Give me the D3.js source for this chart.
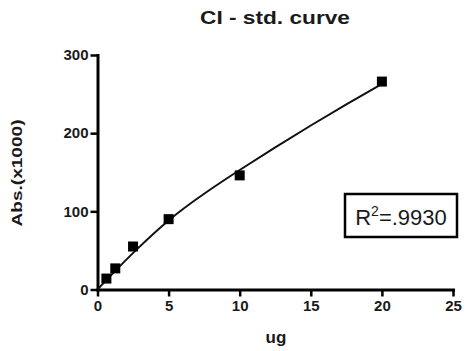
<!DOCTYPE html>
<html lang="en">
<head>
    <meta charset="UTF-8">
    <title>CI - std. curve</title>
    <script src="https://cdn.jsdelivr.net/npm/d3@7"></script>
    <style>
        body { margin: 0; background: #fff; }
        text { font-family: "Liberation Sans", Arial, sans-serif; fill: #1a1a1a; }
    </style>
</head>
<body>
<div id="chart"></div>
<script>
    // measured points (ug vs Abs x1000)
    var ugValues = [0.625, 1.25, 2.5, 5, 10, 20];
    var absValues = [14, 27, 55, 90, 146, 266];

    // fitted curve
    var fitX = [0, 1.25, 2.5, 5, 7.5, 10, 12.5, 15, 17.5, 20];
    var fitY = [0, 24, 47, 90, 123, 153, 182, 210, 237, 263];

    var xTicks = [0, 5, 10, 15, 20, 25];
    var yTicks = [0, 100, 200, 300];
    var rSquared = ".9930";

    var width = 465, height = 351;

    var svg = d3.select("#chart").append("svg")
            .attr("width", width)
            .attr("height", height);

    var x = d3.scaleLinear().domain([0, 25]).range([97.5, 453]);
    var y = d3.scaleLinear().domain([0, 300]).range([289.5, 55]);

    // title
    svg.append("text")
            .attr("x", 275)
            .attr("y", 24)
            .attr("text-anchor", "middle")
            .attr("textLength", 150)
            .attr("lengthAdjust", "spacingAndGlyphs")
            .style("font-size", "19px")
            .style("font-weight", "bold")
            .text("CI - std. curve");

    // axes
    var xAxis = svg.append("g")
            .attr("transform", "translate(0," + y(0) + ")")
            .call(d3.axisBottom(x).tickValues(xTicks).tickSize(7).tickSizeOuter(0).tickPadding(4));
    var yAxis = svg.append("g")
            .attr("transform", "translate(" + x(0) + ",0)")
            .call(d3.axisLeft(y).tickValues(yTicks).tickSize(7).tickSizeOuter(0).tickPadding(2));

    [xAxis, yAxis].forEach(function(ax){
        ax.select(".domain").attr("stroke", "#000").attr("stroke-width", 3).attr("stroke-linecap", "square");
        ax.selectAll(".tick line").attr("stroke", "#000").attr("stroke-width", 2.5);
        ax.selectAll(".tick text")
                .style("font-family", "'Liberation Sans', Arial, sans-serif")
                .style("font-size", "15px")
                .style("font-weight", "bold")
                .attr("fill", "#1a1a1a");
    });

    // axis titles
    svg.append("text")
            .attr("x", 276)
            .attr("y", 343)
            .attr("text-anchor", "middle")
            .style("font-size", "17px")
            .style("font-weight", "bold")
            .text("ug");

    svg.append("text")
            .attr("transform", "translate(22,173) rotate(-90)")
            .attr("text-anchor", "middle")
            .attr("textLength", 107)
            .attr("lengthAdjust", "spacingAndGlyphs")
            .style("font-size", "15px")
            .style("font-weight", "bold")
            .text("Abs.(x1000)");

    // fitted curve
    var fitData = fitX.map(function(d, i){ return [d, fitY[i]]; });
    var line = d3.line()
            .x(function(d){ return x(d[0]); })
            .y(function(d){ return y(d[1]); })
            .curve(d3.curveBasis);
    svg.append("path")
            .datum(fitData)
            .attr("d", line)
            .attr("fill", "none")
            .attr("stroke", "#111")
            .attr("stroke-width", 2);

    // points
    var pts = ugValues.map(function(d, i){ return {x: d, y: absValues[i]}; });
    svg.selectAll("rect.pt")
            .data(pts)
            .enter()
            .append("rect")
            .attr("class", "pt")
            .attr("x", function(d){ return x(d.x) - 5; })
            .attr("y", function(d){ return y(d.y) - 5; })
            .attr("width", 10)
            .attr("height", 10)
            .attr("fill", "#000");

    // R squared box
    var box = svg.append("g").attr("transform", "translate(345,194)");
    box.append("rect")
            .attr("width", 112)
            .attr("height", 43)
            .attr("fill", "#fff")
            .attr("stroke", "#000")
            .attr("stroke-width", 2.5);
    var rt = box.append("text")
            .attr("x", 56)
            .attr("y", 31)
            .attr("text-anchor", "middle")
            .style("font-size", "22px");
    rt.append("tspan").text("R");
    rt.append("tspan").attr("dy", -9).style("font-size", "14px").text("2");
    rt.append("tspan").attr("dy", 9).text("=" + rSquared);
</script>
</body>
</html>
